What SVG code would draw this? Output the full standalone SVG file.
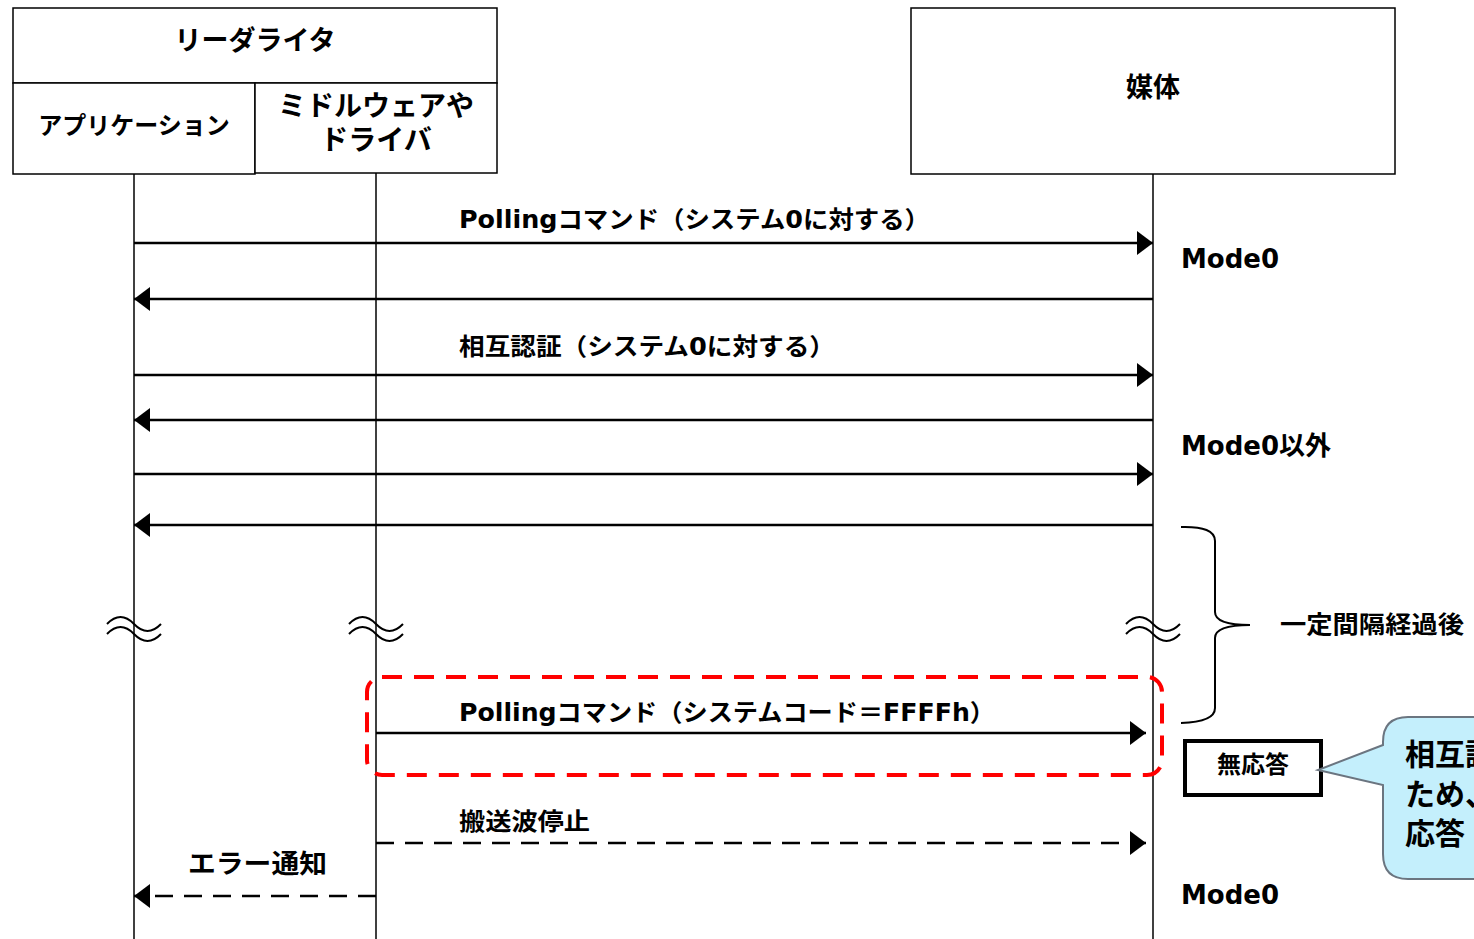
<svg xmlns="http://www.w3.org/2000/svg" width="1474" height="939" viewBox="0 0 1474 939">
<defs>
<style>
.box{fill:#fff;stroke:#000;stroke-width:1.5}
.t{font-family:"DejaVu Sans","Noto Sans CJK JP",sans-serif;font-weight:bold;fill:#000}
.life{stroke:#000;stroke-width:1.5;fill:none}
.msg{stroke:#000;stroke-width:2.5;fill:none}
.dash{stroke-dasharray:18 11}
.wave{stroke:#000;stroke-width:2;fill:none}
</style>
<marker id="ah" markerUnits="userSpaceOnUse" markerWidth="16" markerHeight="24" refX="16" refY="12" orient="auto">
<path d="M0,0 L16,12 L0,24 Z" fill="#000"/>
</marker>
</defs>
<rect width="1474" height="939" fill="#fff"/>

<g id="reader">
<rect class="box" x="13" y="8" width="484" height="75"/>
<text class="t" x="255" y="50" font-size="27" text-anchor="middle">リーダライタ</text>
</g>
<g id="application">
<rect class="box" x="13" y="83" width="242" height="91"/>
<text class="t" x="134" y="134" font-size="24" text-anchor="middle">アプリケーション</text>
</g>
<g id="middleware">
<rect class="box" x="255" y="83" width="242" height="90"/>
<text class="t" x="376" y="116" font-size="28" text-anchor="middle">ミドルウェアや</text>
<text class="t" x="376" y="150" font-size="28" text-anchor="middle">ドライバ</text>
</g>
<g id="media">
<rect class="box" x="911" y="8" width="484" height="166"/>
<text class="t" x="1153" y="97" font-size="27" text-anchor="middle">媒体</text>
</g>

<g id="lifelines">
<line class="life" x1="134" y1="174" x2="134" y2="939"/>
<line class="life" x1="376" y1="173" x2="376" y2="939"/>
<line class="life" x1="1153" y1="174" x2="1153" y2="939"/>
</g>

<g id="breaks">
<path class="wave" d="M107,624 Q120.5,610 134,624 T161,624 M107,634 Q120.5,620 134,634 T161,634"/>
<path class="wave" d="M349,624 Q362.5,610 376,624 T403,624 M349,634 Q362.5,620 376,634 T403,634"/>
<path class="wave" d="M1126,624 Q1139.5,610 1153,624 T1180,624 M1126,634 Q1139.5,620 1153,634 T1180,634"/>
</g>

<g id="highlight">
<rect x="367" y="677" width="795" height="98" rx="15" fill="none" stroke="#ff0000" stroke-width="4" stroke-dasharray="20 12"/>
</g>

<g id="connectors">
<line class="msg" x1="134" y1="243" x2="1153" y2="243" marker-end="url(#ah)"/>
<line class="msg" x1="1153" y1="299" x2="134" y2="299" marker-end="url(#ah)"/>
<line class="msg" x1="134" y1="375" x2="1153" y2="375" marker-end="url(#ah)"/>
<line class="msg" x1="1153" y1="420" x2="134" y2="420" marker-end="url(#ah)"/>
<line class="msg" x1="134" y1="474" x2="1153" y2="474" marker-end="url(#ah)"/>
<line class="msg" x1="1153" y1="525" x2="134" y2="525" marker-end="url(#ah)"/>
<line class="msg" x1="376" y1="733" x2="1146" y2="733" marker-end="url(#ah)"/>
<line class="msg dash" x1="376" y1="843" x2="1146" y2="843" marker-end="url(#ah)"/>
<line class="msg dash" x1="376" y1="896" x2="134" y2="896" marker-end="url(#ah)"/>
</g>

<g id="labels">
<text class="t" x="459" y="228" font-size="24" textLength="471" lengthAdjust="spacingAndGlyphs">Pollingコマンド（システム0に対する）</text>
<text class="t" x="459" y="355" font-size="24" textLength="376" lengthAdjust="spacingAndGlyphs">相互認証（システム0に対する）</text>
<text class="t" x="459" y="721" font-size="24" textLength="536" lengthAdjust="spacingAndGlyphs">Pollingコマンド（システムコード＝FFFFh）</text>
<text class="t" x="459" y="830" font-size="24" textLength="131" lengthAdjust="spacingAndGlyphs">搬送波停止</text>
<text class="t" x="188" y="873" font-size="26" textLength="139" lengthAdjust="spacingAndGlyphs">エラー通知</text>
<text class="t" x="1181" y="268" font-size="26">Mode0</text>
<text class="t" x="1181" y="455" font-size="26">Mode0以外</text>
<text class="t" x="1181" y="904" font-size="26">Mode0</text>
<text class="t" x="1280" y="633" font-size="24" textLength="184" lengthAdjust="spacingAndGlyphs">一定間隔経過後</text>
</g>

<g id="interval-brace">
<path d="M1181,527 Q1215,526 1215,541 L1215,612 Q1215,625 1250,625 Q1215,625 1215,638 L1215,708 Q1215,722 1181,723" fill="none" stroke="#000" stroke-width="2"/>
</g>

<g id="no-response">
<rect x="1185" y="741" width="136" height="54" fill="#fff" stroke="#000" stroke-width="4"/>
<text class="t" x="1253" y="773" font-size="24" text-anchor="middle">無応答</text>
</g>

<g id="callout">
<path d="M1408,717 L1500,717 L1500,879 L1408,879 Q1383,879 1383,854 L1383,785 L1318,770 L1383,745 L1383,742 Q1383,717 1408,717 Z" fill="#c4effc" stroke="#6b7580" stroke-width="2"/>
<text class="t" x="1405" y="765" font-size="30">相互認証</text>
<text class="t" x="1405" y="805" font-size="30">ため、</text>
<text class="t" x="1405" y="844" font-size="30">応答</text>
</g>
</svg>
